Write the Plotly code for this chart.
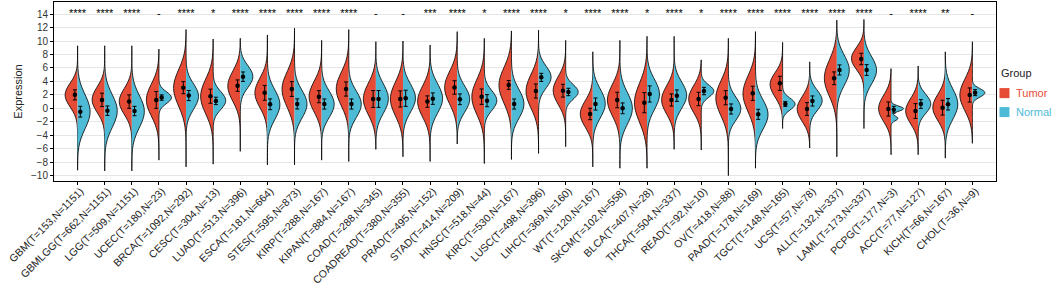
import plotly.graph_objects as go

categories = ["GBM(T=153,N=1151)", "GBMLGG(T=662,N=1151)", "LGG(T=509,N=1151)", "UCEC(T=180,N=23)",
              "BRCA(T=1092,N=292)", "CESC(T=304,N=13)", "LUAD(T=513,N=396)", "ESCA(T=181,N=664)",
              "STES(T=595,N=873)", "KIRP(T=288,N=167)", "KIPAN(T=884,N=167)", "COAD(T=288,N=345)",
              "COADREAD(T=380,N=355)", "PRAD(T=495,N=152)", "STAD(T=414,N=209)", "HNSC(T=518,N=44)",
              "KIRC(T=530,N=167)", "LUSC(T=498,N=396)", "LIHC(T=369,N=160)", "WT(T=120,N=167)",
              "SKCM(T=102,N=558)", "BLCA(T=407,N=28)", "THCA(T=504,N=337)", "READ(T=92,N=10)",
              "OV(T=418,N=88)", "PAAD(T=178,N=169)", "TGCT(T=148,N=165)", "UCS(T=57,N=78)",
              "ALL(T=132,N=337)", "LAML(T=173,N=337)", "PCPG(T=177,N=3)", "ACC(T=77,N=127)",
              "KICH(T=66,N=167)", "CHOL(T=36,N=9)"]

significance = ["****", "****", "****", "-", "****", "*", "****", "****", "****", "****", "****", "-",
                "-", "***", "****", "*", "****", "****", "*", "****", "****", "*", "****", "*",
                "****", "****", "****", "****", "****", "****", "-", "****", "**", "-"]

# overall range of the expression values (violin tails)
y_max = [9.3, 9.3, 9.3, 8.8, 11.7, 10.3, 10.4, 10.9, 11.9, 10.1, 11.7, 9.9, 10.0, 9.4, 11.4, 10.4, 11.5,
         11.6, 10.1, 8.4, 10.1, 10.7, 10.7, 7.2, 10.4, 11.4, 9.8, 6.9, 13.1, 13.2, 5.9, 6.3, 8.4, 9.9]
y_min = [-9.2, -9.3, -9.3, -7.7, -8.7, -8.3, -6.4, -8.4, -8.4, -7.7, -7.9, -6.1, -7.2, -7.9, -5.3, -8.2,
         -7.6, -6.7, -5.7, -8.7, -8.9, -8.9, -6.1, -6.2, -10.0, -8.9, -3.0, -5.9, -7.2, -3.0, -6.9, -6.9,
         -7.4, -5.2]

# Tumor: lower quartile, centre (point), upper quartile, error-bar half length
tumor_q1 = [0.9, 0.2, -0.1, -0.2, 1.4, 0.2, 1.9, 1.0, 1.2, 0.4, 1.4, 0.0, -0.1, -0.35, 1.6, 0.1, 1.8,
            1.0, 1.45, -2.0, -0.2, -0.9, 0.0, 0.15, -0.1, 0.55, 2.25, -1.2, 2.9, 6.5, -1.1, -1.55, -1.0, 0.6]
tumor_mid = [2.0, 1.25, 1.0, 1.25, 3.07, 1.8, 3.37, 2.3, 2.87, 1.73, 2.87, 1.39, 1.39, 1.0, 3.1, 1.73,
             3.47, 2.57, 2.62, -0.84, 1.24, 0.84, 1.24, 1.39, 1.58, 2.23, 3.71, -0.1, 4.46, 7.33, -0.1,
             -0.4, 0.1, 1.98]
tumor_q3 = [3.0, 2.45, 2.2, 2.65, 4.6, 3.25, 4.55, 3.6, 4.3, 3.1, 4.35, 2.8, 2.9, 2.4, 4.5, 3.2, 4.95,
            4.0, 3.9, 0.35, 2.6, 2.55, 2.5, 2.55, 2.95, 3.7, 4.4, 1.0, 6.1, 8.45, 1.2, 0.7, 1.3, 3.4]
tumor_err = [0.75, 1.0, 1.0, 1.25, 0.9, 1.05, 0.85, 1.1, 1.1, 0.9, 1.05, 1.25, 1.2, 0.85, 1.0, 1.15,
             0.65, 1.05, 0.95, 0.85, 1.15, 1.5, 0.9, 1.0, 1.05, 1.05, 1.05, 0.95, 0.95, 0.85, 1.05, 1.1,
             1.1, 1.05]

# Normal
normal_q1 = [-2.0, -1.9, -1.95, 1.05, 0.5, 0.4, 3.75, -0.8, -0.65, -0.6, -0.6, 0.2, 0.3, 0.2, 0.25, 0.3,
             -0.6, 3.7, 1.8, -0.5, -1.4, 0.7, 0.85, 2.0, -1.05, -2.25, 0.1, 0.35, 4.3, 4.4, -1.5, -0.15,
             -0.7, 1.9]
normal_mid = [-0.5, -0.35, -0.4, 1.6, 1.9, 1.1, 4.7, 0.6, 0.65, 0.64, 0.64, 1.39, 1.49, 1.44, 1.34, 1.14,
              0.64, 4.6, 2.43, 0.64, 0.0, 2.13, 1.88, 2.57, -0.1, -0.89, 0.64, 1.09, 5.7, 5.69, -0.2,
              0.64, 0.6, 2.33]
normal_q3 = [1.0, 1.0, 0.9, 2.1, 2.75, 2.0, 5.7, 1.8, 1.8, 1.75, 1.75, 2.8, 2.8, 2.8, 2.55, 2.05, 1.95,
             5.65, 3.1, 2.05, 1.4, 3.35, 3.2, 3.1, 1.0, 0.35, 1.15, 2.15, 6.95, 6.85, 0.1, 1.55, 2.0, 2.65]
normal_err = [0.8, 0.7, 0.7, 0.4, 0.75, 0.55, 0.7, 0.8, 0.75, 0.75, 0.75, 1.25, 1.2, 0.85, 0.8, 0.9,
              0.75, 0.6, 0.55, 0.9, 0.8, 1.2, 0.85, 0.55, 0.75, 0.75, 0.35, 0.75, 0.75, 0.8, 0.5, 0.65,
              0.85, 0.45]

# PCPG normal has only 3 samples -> narrow kernel (bimodal shape)
normal_bw_override = {30: 0.35}

TUMOR_COLOR = "#E64B35"
NORMAL_COLOR = "#4DBBD5"
FONT = "Liberation Sans, Arial, sans-serif"

fig = go.Figure()

groups = [
    ("Tumor", tumor_q1, tumor_mid, tumor_q3, tumor_err, TUMOR_COLOR, "negative", -0.1, {}),
    ("Normal", normal_q1, normal_mid, normal_q3, normal_err, NORMAL_COLOR, "positive", 0.1, normal_bw_override),
]

for name, q1, mid, q3, err, color, side, off, bw_over in groups:
    for i in range(len(categories)):
        vals = [q1[i], mid[i], q3[i]]
        bw = bw_over.get(i, 0.7 * (q3[i] - q1[i]))
        fig.add_trace(go.Violin(
            x=[i] * len(vals), y=vals, side=side, width=0.92, scalemode="width",
            bandwidth=bw, spanmode="manual", span=[y_min[i], y_max[i]],
            fillcolor=color, opacity=1, line=dict(color="black", width=0.8),
            points=False, box_visible=False, meanline_visible=False,
            showlegend=False, hoverinfo="skip", name=name,
        ))

for name, q1, mid, q3, err, color, side, off, bw_over in groups:
    fig.add_trace(go.Scatter(
        x=[i + off for i in range(len(categories))], y=mid, mode="markers",
        marker=dict(color="black", size=4.5),
        error_y=dict(type="data", array=err, visible=True, color="black", thickness=1, width=2),
        showlegend=False, hoverinfo="skip",
    ))

fig.add_trace(go.Scatter(
    x=list(range(len(categories))), y=[14.0] * len(categories), mode="text", text=significance,
    textposition="middle center", textfont=dict(family=FONT, size=11, color="black"),
    showlegend=False, hoverinfo="skip", cliponaxis=False,
))

fig.update_layout(
    width=1052, height=285,
    margin=dict(l=54, r=56, t=2, b=104),
    paper_bgcolor="white", plot_bgcolor="white",
    violinmode="overlay", violingap=0, violingroupgap=0,
    font=dict(family=FONT, color="#333333"),
    showlegend=False,
)

fig.update_xaxes(
    range=[-0.87, 33.87], tickmode="array", tickvals=list(range(len(categories))), ticktext=categories,
    tickangle=-45, tickfont=dict(family=FONT, size=10.5, color="#222222"),
    ticklabelstandoff=-4, ticklabelshift=3,
    showgrid=False, zeroline=False, showline=True, linecolor="black", linewidth=1, mirror=True,
    ticks="outside", ticklen=3, tickcolor="black", automargin=False,
)
fig.update_yaxes(
    range=[-10.8, 15.8], tickmode="array", tickvals=list(range(-10, 15, 2)),
    tickfont=dict(family=FONT, size=10, color="#333333"),
    showgrid=True, gridcolor="#E6E6E6", gridwidth=1, zeroline=False,
    showline=True, linecolor="black", linewidth=1, mirror=True,
    ticks="outside", ticklen=3, tickcolor="black", automargin=False,
    title=dict(text="Expression", font=dict(family=FONT, size=11, color="#222222"), standoff=6),
)

# legend drawn as annotations and key squares at the right of the panel
fig.add_annotation(xref="paper", yref="paper", x=1.0037, y=0.602, xanchor="left", yanchor="middle",
                   text="Group", showarrow=False, font=dict(family=FONT, size=11, color="#222222"))
for label, color, yc in [("Tumor", TUMOR_COLOR, 0.491), ("Normal", NORMAL_COLOR, 0.385)]:
    fig.add_shape(type="rect", xref="paper", yref="paper", x0=1.0037, x1=1.0143,
                  y0=yc - 0.028, y1=yc + 0.028, fillcolor=color, line=dict(width=0))
    fig.add_annotation(xref="paper", yref="paper", x=1.0195, y=yc, xanchor="left", yanchor="middle",
                       text=label, showarrow=False, font=dict(family=FONT, size=11, color=color))

fig.write_html("out.html", config={"displayModeBar": False},
               post_script="document.body.style.margin='0';")
